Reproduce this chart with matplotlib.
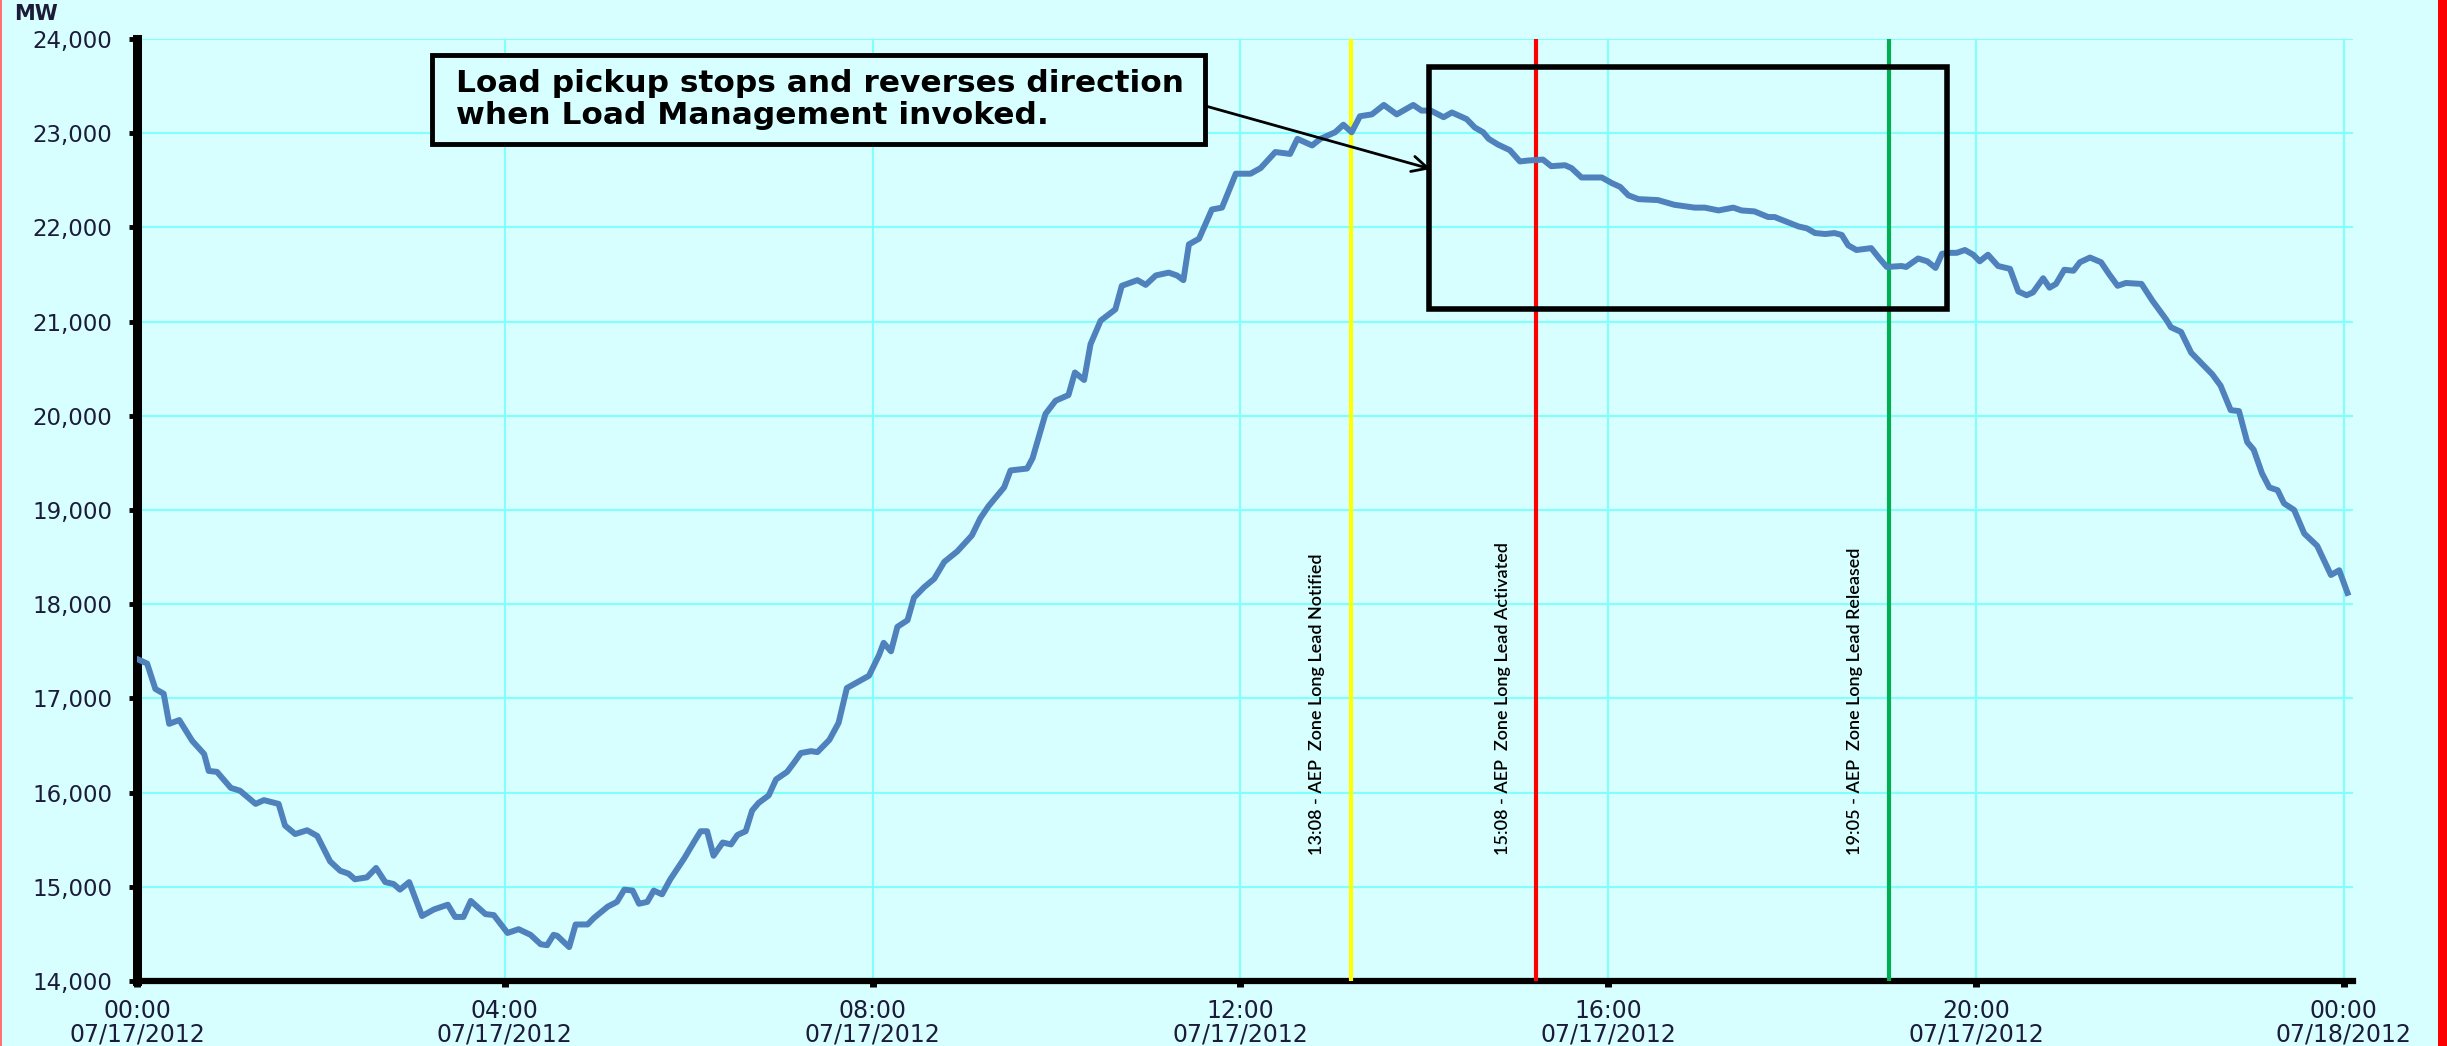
import matplotlib
matplotlib.use('Agg')
import matplotlib.pyplot as plt
from matplotlib.patches import Rectangle
from matplotlib import font_manager

# ---------------- data ----------------
hours = [0.02, 0.11, 0.20, 0.29, 0.35, 0.46, 0.60, 0.73, 0.78, 0.87, 1.02, 1.12, 1.29, 1.38,
         1.54, 1.61, 1.72, 1.85, 1.96, 2.10, 2.21, 2.30, 2.37, 2.50, 2.60, 2.70, 2.79, 2.86,
         2.96, 3.10, 3.23, 3.38, 3.46, 3.55, 3.63, 3.79, 3.88, 4.03, 4.15, 4.28, 4.39, 4.46,
         4.53, 4.57, 4.70, 4.77, 4.90, 4.97, 5.12, 5.22, 5.30, 5.39, 5.46, 5.55, 5.62, 5.71,
         5.80, 5.95, 6.06, 6.13, 6.20, 6.27, 6.37, 6.46, 6.53, 6.62, 6.69, 6.76, 6.87, 6.95,
         7.07, 7.14, 7.22, 7.33, 7.40, 7.53, 7.63, 7.72, 7.85, 7.96, 8.07, 8.12, 8.20, 8.27,
         8.38, 8.45, 8.56, 8.67, 8.78, 8.92, 9.08, 9.17, 9.26, 9.43, 9.50, 9.68, 9.74, 9.80,
         9.88, 9.99, 10.13, 10.20, 10.30, 10.37, 10.48, 10.64, 10.71, 10.88, 10.97, 11.08,
         11.22, 11.31, 11.38, 11.44, 11.55, 11.69, 11.80, 11.95, 12.11, 12.22, 12.38, 12.54,
         12.62, 12.78, 12.87, 13.03, 13.12, 13.21, 13.30, 13.43, 13.56, 13.70, 13.88, 13.97,
         14.07, 14.21, 14.30, 14.46, 14.55, 14.64, 14.70, 14.80, 14.93, 15.04, 15.13, 15.29,
         15.38, 15.53, 15.60, 15.71, 15.93, 16.04, 16.13, 16.22, 16.33, 16.54, 16.72, 16.94,
         17.05, 17.20, 17.36, 17.45, 17.59, 17.74, 17.81, 18.07, 18.16, 18.25, 18.36, 18.46,
         18.54, 18.61, 18.70, 18.86, 18.95, 19.03, 19.19, 19.24, 19.37, 19.47, 19.56, 19.63,
         19.72, 19.79, 19.88, 19.97, 20.04, 20.13, 20.24, 20.37, 20.46, 20.55, 20.62, 20.73,
         20.80, 20.87, 20.96, 21.06, 21.13, 21.24, 21.36, 21.45, 21.54, 21.63, 21.80, 21.92,
         22.07, 22.12, 22.23, 22.34, 22.43, 22.57, 22.66, 22.77, 22.86, 22.95, 23.02, 23.11,
         23.19, 23.28, 23.35, 23.46, 23.57, 23.71, 23.86, 23.95, 24.04]
load_mw = [17410, 17370, 17100, 17050, 16730, 16770, 16550, 16410, 16230, 16220, 16050, 16020,
           15880, 15920, 15880, 15650, 15560, 15600, 15540, 15270, 15170, 15140, 15080, 15100,
           15200, 15050, 15030, 14970, 15050, 14690, 14760, 14810, 14680, 14680, 14850, 14710,
           14700, 14510, 14550, 14490, 14390, 14380, 14490, 14480, 14360, 14600, 14600, 14670,
           14790, 14840, 14970, 14960, 14820, 14840, 14960, 14920, 15080, 15300, 15480, 15590,
           15590, 15330, 15470, 15450, 15550, 15590, 15810, 15890, 15970, 16140, 16220, 16310,
           16420, 16440, 16430, 16560, 16740, 17110, 17180, 17240, 17460, 17590, 17500, 17760,
           17830, 18070, 18180, 18270, 18450, 18560, 18730, 18910, 19040, 19240, 19420, 19440,
           19550, 19750, 20020, 20160, 20220, 20460, 20380, 20760, 21010, 21130, 21380, 21440,
           21390, 21490, 21520, 21490, 21440, 21820, 21880, 22190, 22210, 22570, 22570, 22630,
           22800, 22780, 22940, 22870, 22940, 23010, 23090, 23010, 23180, 23200, 23300, 23200,
           23300, 23240, 23240, 23170, 23220, 23150, 23060, 23010, 22940, 22880, 22820, 22700,
           22710, 22720, 22650, 22660, 22630, 22530, 22530, 22470, 22430, 22340, 22300, 22290,
           22240, 22210, 22210, 22180, 22210, 22180, 22170, 22110, 22110, 22010, 21990, 21940,
           21930, 21940, 21920, 21810, 21760, 21780, 21670, 21580, 21590, 21580, 21670, 21640,
           21570, 21720, 21730, 21730, 21760, 21710, 21640, 21710, 21590, 21560, 21320, 21280,
           21310, 21460, 21360, 21400, 21550, 21540, 21630, 21680, 21630, 21500, 21380, 21410,
           21400, 21220, 21020, 20940, 20890, 20670, 20580, 20440, 20320, 20060, 20050, 19720,
           19640, 19390, 19240, 19210, 19070, 19000, 18750, 18620, 18310, 18360, 18120]

event_hours = [13.2, 15.22, 19.05]
event_labels = ['13:08 - AEP  Zone Long Lead Notified',
                '15:08 - AEP  Zone Long Lead Activated',
                '19:05 - AEP  Zone Long Lead Released']
event_colors = ['#FFFF00', '#FF0000', '#00B050']

x_ticks = [0, 4, 8, 12, 16, 20, 24]
x_tick_labels = ['00:00\n07/17/2012', '04:00\n07/17/2012', '08:00\n07/17/2012',
                 '12:00\n07/17/2012', '16:00\n07/17/2012', '20:00\n07/17/2012',
                 '00:00\n07/18/2012']
y_ticks = [14000, 15000, 16000, 17000, 18000, 19000, 20000, 21000, 22000, 23000, 24000]
y_tick_labels = ['14,000', '15,000', '16,000', '17,000', '18,000', '19,000', '20,000',
                 '21,000', '22,000', '23,000', '24,000']
y_unit = 'MW'
note_text = 'Load pickup stops and reverses direction\nwhen Load Management invoked.'
note_box = (3.21, 22885, 11.62, 23830)      # x0, y0, x1, y1 in data units
focus_box = (14.05, 21134, 19.68, 23703)
arrow_from = (11.62, 23289)
arrow_to = (14.07, 22620)


def pick(families):
    out = []
    for f in families:
        try:
            font_manager.findfont(font_manager.FontProperties(family=f), fallback_to_default=False)
            out.append(f)
        except Exception:
            pass
    return out or ['DejaVu Sans']


narrow = pick(['Lato', 'Open Sans'])

BG = '#D7FFFF'
GRID = '#80FFFF'
TXT = '#1C1C3A'

fig = plt.figure(figsize=(24.47, 10.46), dpi=100, facecolor=BG)
ax = fig.add_axes([137 / 2447, 1 - 981 / 1046, (2353 - 137) / 2447, (981 - 39) / 1046])
ax.set_facecolor(BG)

ax.set_xlim(0, 24.1)
ax.set_ylim(14000, 24000)
ax.set_xticks(x_ticks)
ax.set_xticklabels(x_tick_labels, fontsize=17, color=TXT, family='DejaVu Sans', linespacing=0.98)
ax.set_yticks(y_ticks)
ax.set_yticklabels(y_tick_labels, fontsize=16.5, color=TXT, family='DejaVu Sans')
ax.grid(True, color=GRID, linewidth=1.5)
ax.set_axisbelow(True)

for s in ['top', 'right']:
    ax.spines[s].set_visible(False)
ax.spines['left'].set_linewidth(6.5)
ax.spines['bottom'].set_linewidth(4.5)
ax.tick_params(axis='y', length=6, width=3.5, pad=12, color='black')
ax.tick_params(axis='x', length=4, width=5, pad=9, color='black')

ax.plot(hours, load_mw, color='#4F81BD', linewidth=4.3, solid_joinstyle='round', zorder=4)

for h, lab, c in zip(event_hours, event_labels, event_colors):
    ax.axvline(h, color=c, linewidth=3, zorder=3)
    ax.annotate(lab, xy=(h, 15340), xytext=(-24, 0), textcoords='offset points',
                rotation=90, ha='center', va='bottom', fontsize=13, fontweight='semibold',
                family=narrow, color='black', zorder=5)

# focus rectangle
ax.add_patch(Rectangle((focus_box[0], focus_box[1]), focus_box[2] - focus_box[0],
                       focus_box[3] - focus_box[1], fill=False, edgecolor='black',
                       linewidth=4, zorder=6))
# note box
ax.add_patch(Rectangle((note_box[0], note_box[1]), note_box[2] - note_box[0],
                       note_box[3] - note_box[1], facecolor=BG, edgecolor='black',
                       linewidth=3.5, zorder=6))
ax.text(note_box[0] + 0.26, (note_box[1] + note_box[3]) / 2, note_text, ha='left', va='center',
        fontsize=22.5, fontweight='bold', family='DejaVu Sans', color='black',
        linespacing=1.15, zorder=7)
ax.annotate('', xy=arrow_to, xytext=arrow_from,
            arrowprops=dict(arrowstyle='->', color='black', linewidth=2, mutation_scale=28,
                            shrinkA=0, shrinkB=0), zorder=7)

fig.text(14 / 2447, 1 - 14 / 1046, y_unit, fontsize=15, fontweight='bold', color=TXT,
         family='DejaVu Sans', ha='left', va='center')

# red frame edges of the picture
fig.patches.append(Rectangle((2438 / 2447, 0), 9 / 2447, 1, transform=fig.transFigure,
                             facecolor='#FF0000', edgecolor='none'))
fig.patches.append(Rectangle((0, 0), 2 / 2447, 1, transform=fig.transFigure,
                             facecolor='#FF7070', edgecolor='none'))

fig.savefig('out.png', dpi=100, facecolor=BG)
